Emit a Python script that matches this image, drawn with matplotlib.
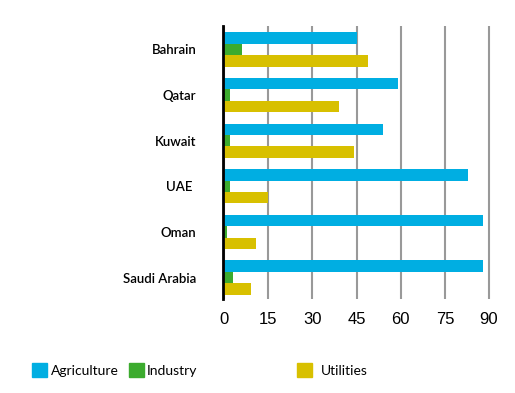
import matplotlib
matplotlib.use("Agg")
import matplotlib.pyplot as plt
import matplotlib.patches as mpatches
import numpy as np

# Share of water use by sector (%)
countries = ["Bahrain", "Qatar", "Kuwait", "UAE ", "Oman", "Saudi Arabia"]
agriculture = [45, 59, 54, 83, 88, 88]
industry = [6, 2, 2, 2, 1, 3]
utilities = [49, 39, 44, 15, 11, 9]
x_ticks = [0, 15, 30, 45, 60, 75, 90]

series_names = ["Agriculture", "Industry", "Utilities"]
colors = ["#00AEE2", "#3CAB2E", "#D8C000"]

fig = plt.figure(figsize=(5.15, 3.93), dpi=100)
ax = fig.add_axes([224 / 515, 1 - 299 / 393, (492 - 224) / 515, (299 - 26) / 393])

# spines first: moving a spine resets the tick labels
for s in ["top", "right", "bottom"]:
    ax.spines[s].set_visible(False)
ax.spines["left"].set_linewidth(2)
ax.spines["left"].set_color("black")
ax.spines["left"].set_position(("outward", 1))
ax.spines["left"].set_zorder(3)

y = np.arange(len(countries))
h = 0.25
for vals, off, c in zip([agriculture, industry, utilities], [-h, 0, h], colors):
    ax.barh(y + off, vals, height=h, color=c, zorder=2)

ax.set_xlim(0, 91)
ax.set_ylim(len(countries) - 0.53, -0.515)
ax.set_xticks(x_ticks)
ax.set_xticklabels([str(t) for t in x_ticks], fontsize=12, family="Liberation Sans")
ax.set_yticks(y)
ax.set_yticklabels(countries, fontsize=9.5, family="Lato", fontweight="semibold")
ax.tick_params(axis="x", length=0, pad=9.5)
ax.tick_params(axis="y", length=0, pad=19)

ax.grid(axis="x", color="#999999", linewidth=1.5, zorder=1)
ax.set_axisbelow(True)

# legend drawn by hand to keep the uneven spacing of the original
leg_pos = [(32, 51), (129, 147), (297, 321)]
for (bx, tx), name, c in zip(leg_pos, series_names, colors):
    fig.patches.append(mpatches.Rectangle((bx / 515, 1 - 377 / 393), 15 / 515, 14 / 393,
                                          transform=fig.transFigure, color=c))
    fig.text(tx / 515, 1 - 371 / 393, name, fontsize=10, family="Lato", va="center", ha="left")

fig.savefig("out.png", dpi=100)
